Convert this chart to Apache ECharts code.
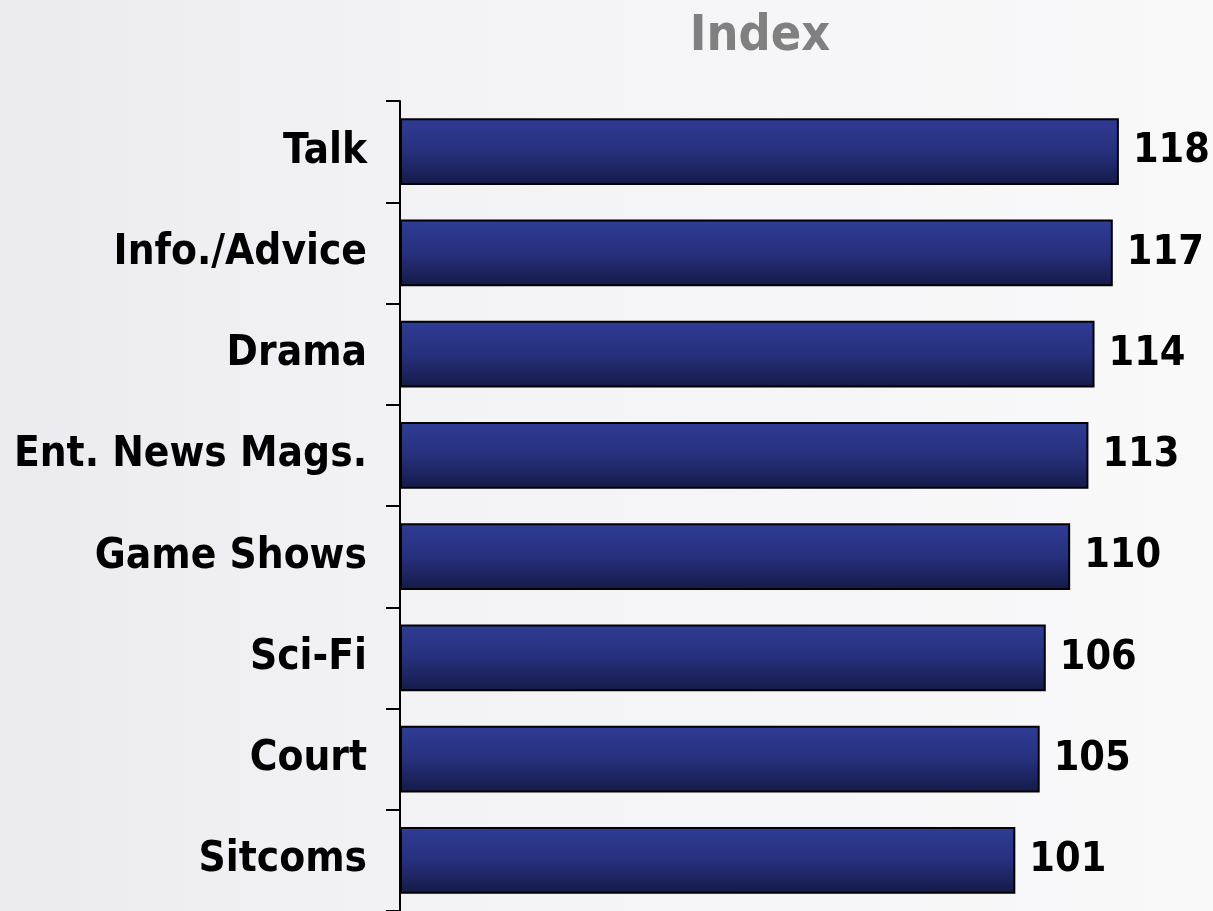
<!DOCTYPE html>
<html>
<head>
<meta charset="utf-8">
<script src="https://cdn.jsdelivr.net/npm/echarts@6/dist/echarts.min.js"></script>
<style>
  html, body { margin: 0; padding: 0; }
  #chart { width: 1213px; height: 911px; }
</style>
</head>
<body>
<div id="chart"></div>
<script>
// Genre index values, listed bottom to top as the category axis draws them
const categories = ['Sitcoms', 'Court', 'Sci-Fi', 'Game Shows', 'Ent. News Mags.', 'Drama', 'Info./Advice', 'Talk'];
const indexValues = [101, 105, 106, 110, 113, 114, 117, 118];
const titleText = 'Index';

const chart = echarts.init(document.getElementById('chart'));
const FONT = '"DejaVu Sans Condensed", "DejaVu Sans", sans-serif';

chart.setOption({
  backgroundColor: new echarts.graphic.LinearGradient(0, 0, 1, 0, [
    { offset: 0, color: '#ebeaef' },
    { offset: 0.35, color: '#f3f3f6' },
    { offset: 1, color: '#f9f9fa' }
  ]),
  title: {
    text: titleText,
    left: 755,
    top: 7,
    textAlign: 'center',
    textStyle: { color: '#808080', fontFamily: FONT, fontWeight: 'bold', fontSize: 50 }
  },
  grid: { left: 400, top: 101, width: 792, bottom: -1, containLabel: false },
  xAxis: {
    type: 'value',
    min: 0,
    max: 130,
    show: false
  },
  yAxis: {
    type: 'category',
    data: categories,
    axisLine: { show: true, lineStyle: { color: '#000', width: 2 } },
    axisTick: { show: true, length: 14, lineStyle: { color: '#000', width: 2 } },
    axisLabel: {
      color: '#000',
      fontFamily: FONT,
      fontWeight: 'bold',
      fontSize: 42,
      margin: 33,
      padding: [6, 0, 0, 0]
    },
    splitLine: { show: false }
  },
  series: [{
    type: 'bar',
    data: indexValues,
    barWidth: '66%',
    itemStyle: {
      color: new echarts.graphic.LinearGradient(0, 0, 0, 1, [
        { offset: 0, color: '#2f3c96' },
        { offset: 0.5, color: '#27307c' },
        { offset: 1, color: '#141a48' }
      ]),
      borderColor: '#000',
      borderWidth: 2
    },
    label: {
      show: true,
      position: 'right',
      distance: 14,
      color: '#000',
      fontFamily: FONT,
      fontWeight: 'bold',
      fontSize: 41,
      padding: [6, 0, 0, 0]
    }
  }]
});
</script>
</body>
</html>
